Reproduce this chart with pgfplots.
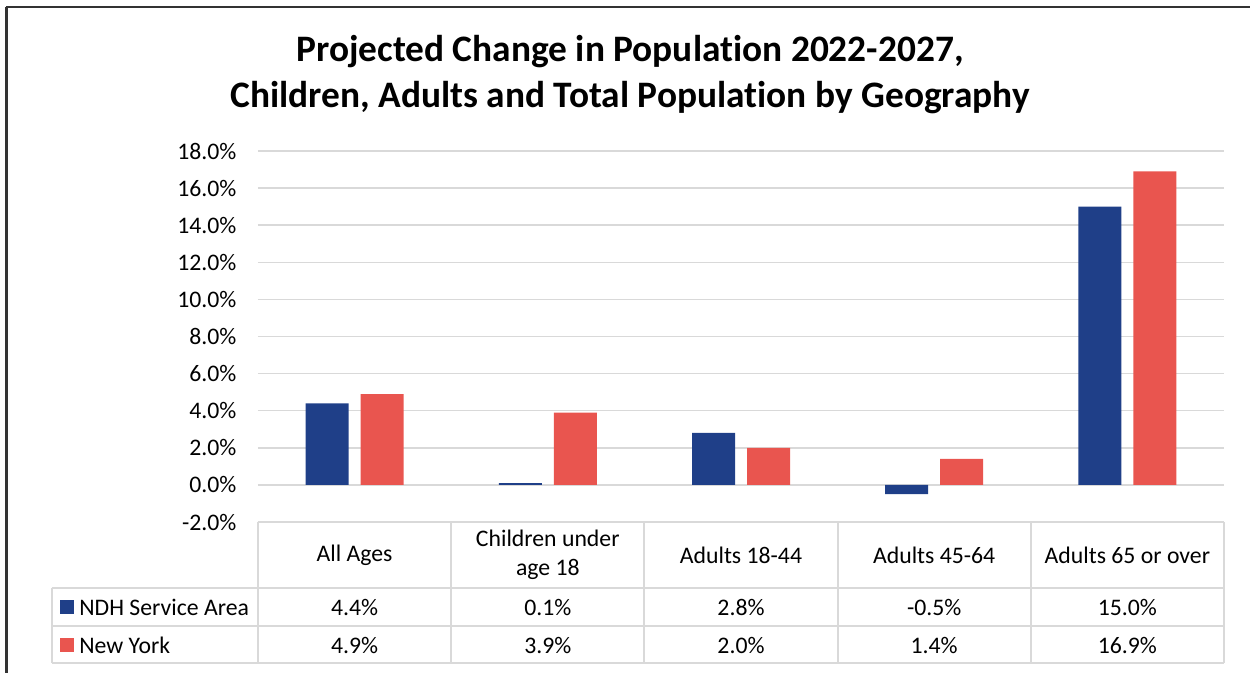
\documentclass[border=0pt]{standalone}
\usepackage{pgfplots}
\pgfplotsset{compat=1.18}
\usepackage{fontspec}
\setmainfont[Ligatures=NoCommon]{Carlito}

\definecolor{ndh}{HTML}{1F3F88}
\definecolor{nyc}{HTML}{E9554F}
\definecolor{gridc}{HTML}{D9D9D9}

\begin{document}
\begin{tikzpicture}
\fontsize{14.3}{17}\selectfont
% pixel frame of the reference: 1 px = 0.6bp, origin at plot corner (258,522)
\begin{scope}[x=0.6bp, y=-0.6bp, shift={(-154.8bp,313.2bp)}]
  \useasboundingbox (0,0) rectangle (1250,673);
  \draw[black!80, line width=1.2bp] (6,7) -- (1250,7);
  \draw[black!80, line width=1.8bp] (7,7) -- (7,673);
\end{scope}

\begin{axis}[
  at={(0,0)}, anchor=south west,
  scale only axis,
  width=579.6bp, height=222.6bp,
  xmin=-0.5, xmax=4.5,
  ymin=-2, ymax=18,
  ybar=7.2bp, bar width=25.8bp,
  xtick=\empty,
  ytick={-2,0,...,18},
  yticklabels={-2.0\%,0.0\%,2.0\%,4.0\%,6.0\%,8.0\%,10.0\%,12.0\%,14.0\%,16.0\%,18.0\%},
  yticklabel style={font=\fontsize{14.3}{17}\selectfont, xshift=-8bp},
  ymajorgrids, major grid style={gridc, line width=0.9bp},
  axis line style={draw=none},
  major tick length=0pt,
  clip=false,
]
\addplot[fill=ndh, draw=none] coordinates {(0,4.4) (1,0.1) (2,2.8) (3,-0.5) (4,15.0)};
\addplot[fill=nyc, draw=none] coordinates {(0,4.9) (1,3.9) (2,2.0) (3,1.4) (4,16.9)};
\end{axis}

\begin{scope}[x=0.6bp, y=-0.6bp, shift={(-154.8bp,313.2bp)}]
  % title
  \node[font=\fontsize{22.5}{27}\bfseries] at (630,52) {Projected Change in Population 2022-2027,};
  \node[font=\fontsize{22.5}{27}\bfseries] at (630,98) {Children, Adults and Total Population by Geography};
  % data table grid
  \begin{scope}[gridc, line width=0.9bp]
    \draw (258,522) -- (1224,522);
    \foreach \yy in {588,626,663} \draw (52,\yy) -- (1224,\yy);
    \draw (52,588) -- (52,663);
    \foreach \xx in {258,451,644,838,1031,1224} \draw (\xx,522) -- (\xx,663);
  \end{scope}
  % header row
  \node at (354.6,555) {All Ages};
  \node[align=center, font=\fontsize{14.3}{17.4}\selectfont] at (547.8,555) {Children under\\age 18};
  \node at (741,555) {Adults 18-44};
  \node at (934.2,555) {Adults 45-64};
  \node at (1127.4,555) {Adults 65 or over};
  % legend keys
  \fill[ndh] (60,600) rectangle (74,614);
  \fill[nyc] (60,638) rectangle (74,652);
  \node[anchor=west, inner sep=0pt] at (79,607) {NDH Service Area};
  \node[anchor=west, inner sep=0pt] at (79,645) {New York};
  % values
  \foreach \xx/\va/\vb in {354.6/4.4\%/4.9\%, 547.8/0.1\%/3.9\%, 741/2.8\%/2.0\%, 934.2/-0.5\%/1.4\%, 1127.4/15.0\%/16.9\%} {
    \node at (\xx,607) {\va};
    \node at (\xx,645) {\vb};
  }
\end{scope}
\end{tikzpicture}
\end{document}
